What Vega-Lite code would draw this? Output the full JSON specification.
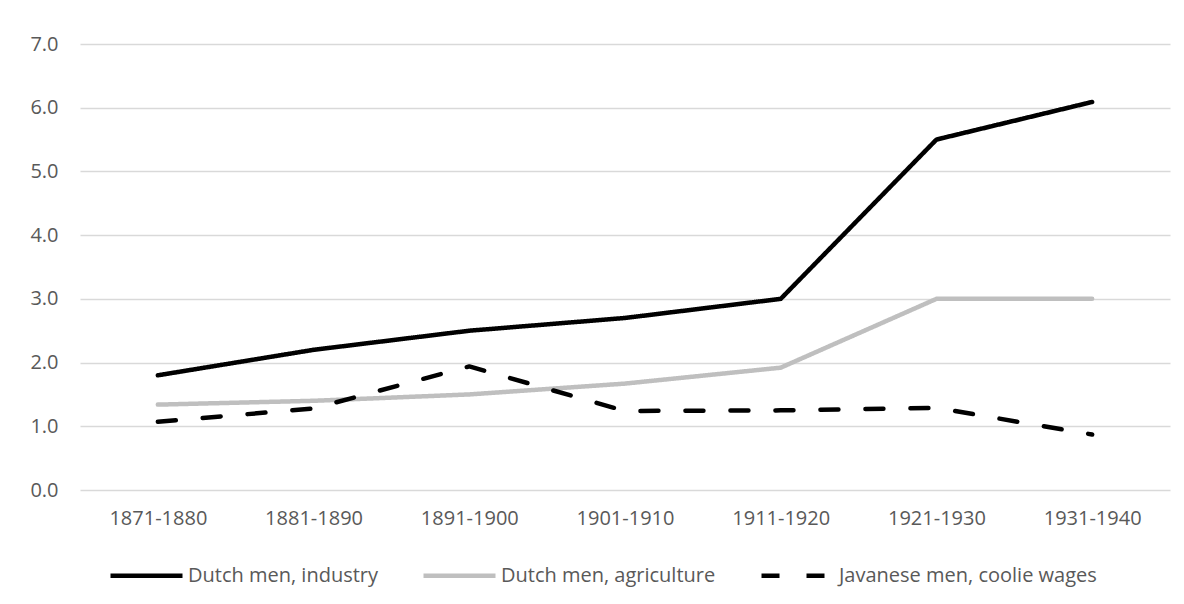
{
  "$schema": "https://vega.github.io/schema/vega-lite/v6.json",
  "width": 1090,
  "height": 446,
  "autosize": {"type": "none"},
  "padding": {"left": 80, "top": 44, "right": 14, "bottom": 114},
  "background": "white",
  "config": {
    "view": {"stroke": null},
    "font": "Open Sans"
  },
  "data": {
    "values": [
      {"period": "1871-1880", "series": "Dutch men, industry", "value": 1.80},
      {"period": "1881-1890", "series": "Dutch men, industry", "value": 2.20},
      {"period": "1891-1900", "series": "Dutch men, industry", "value": 2.50},
      {"period": "1901-1910", "series": "Dutch men, industry", "value": 2.70},
      {"period": "1911-1920", "series": "Dutch men, industry", "value": 3.00},
      {"period": "1921-1930", "series": "Dutch men, industry", "value": 5.50},
      {"period": "1931-1940", "series": "Dutch men, industry", "value": 6.09},
      {"period": "1871-1880", "series": "Dutch men, agriculture", "value": 1.34},
      {"period": "1881-1890", "series": "Dutch men, agriculture", "value": 1.40},
      {"period": "1891-1900", "series": "Dutch men, agriculture", "value": 1.50},
      {"period": "1901-1910", "series": "Dutch men, agriculture", "value": 1.67},
      {"period": "1911-1920", "series": "Dutch men, agriculture", "value": 1.92},
      {"period": "1921-1930", "series": "Dutch men, agriculture", "value": 3.00},
      {"period": "1931-1940", "series": "Dutch men, agriculture", "value": 3.00},
      {"period": "1871-1880", "series": "Javanese men, coolie wages", "value": 1.07},
      {"period": "1881-1890", "series": "Javanese men, coolie wages", "value": 1.28},
      {"period": "1891-1900", "series": "Javanese men, coolie wages", "value": 1.94},
      {"period": "1901-1910", "series": "Javanese men, coolie wages", "value": 1.24},
      {"period": "1911-1920", "series": "Javanese men, coolie wages", "value": 1.25},
      {"period": "1921-1930", "series": "Javanese men, coolie wages", "value": 1.29},
      {"period": "1931-1940", "series": "Javanese men, coolie wages", "value": 0.87}
    ]
  },
  "mark": {"type": "line", "strokeWidth": 4.5, "strokeCap": "round", "strokeJoin": "round"},
  "encoding": {
    "x": {
      "field": "period",
      "type": "ordinal",
      "sort": null,
      "scale": {"type": "point", "padding": 0.5},
      "axis": {
        "title": null,
        "labelAngle": 0,
        "labelFontSize": 20,
        "labelColor": "#595959",
        "labelPadding": 18,
        "ticks": false,
        "domain": false,
        "grid": false
      }
    },
    "y": {
      "field": "value",
      "type": "quantitative",
      "scale": {"domain": [0, 7], "nice": false, "zero": true},
      "axis": {
        "title": null,
        "values": [0, 1, 2, 3, 4, 5, 6, 7],
        "format": ".1f",
        "labelFontSize": 20,
        "labelColor": "#595959",
        "labelPadding": 22,
        "ticks": false,
        "domain": false,
        "gridColor": "#D9D9D9",
        "gridWidth": 1.5
      }
    },
    "color": {
      "field": "series",
      "type": "nominal",
      "sort": null,
      "scale": {
        "domain": ["Dutch men, industry", "Dutch men, agriculture", "Javanese men, coolie wages"],
        "range": ["#000000", "#BFBFBF", "#000000"]
      },
      "legend": {
        "title": null,
        "orient": "none",
        "legendX": 28,
        "legendY": 493,
        "direction": "horizontal",
        "symbolType": "stroke",
        "symbolSize": 5184,
        "symbolStrokeWidth": 4.5,
        "labelFontSize": 20,
        "labelColor": "#595959",
        "labelOffset": 3,
        "columnPadding": 36,
        "labelLimit": 400
      }
    },
    "strokeDash": {
      "field": "series",
      "type": "nominal",
      "sort": null,
      "scale": {
        "domain": ["Dutch men, industry", "Dutch men, agriculture", "Javanese men, coolie wages"],
        "range": [[1, 0], [1, 0], [18, 27]]
      },
      "legend": null
    }
  }
}
